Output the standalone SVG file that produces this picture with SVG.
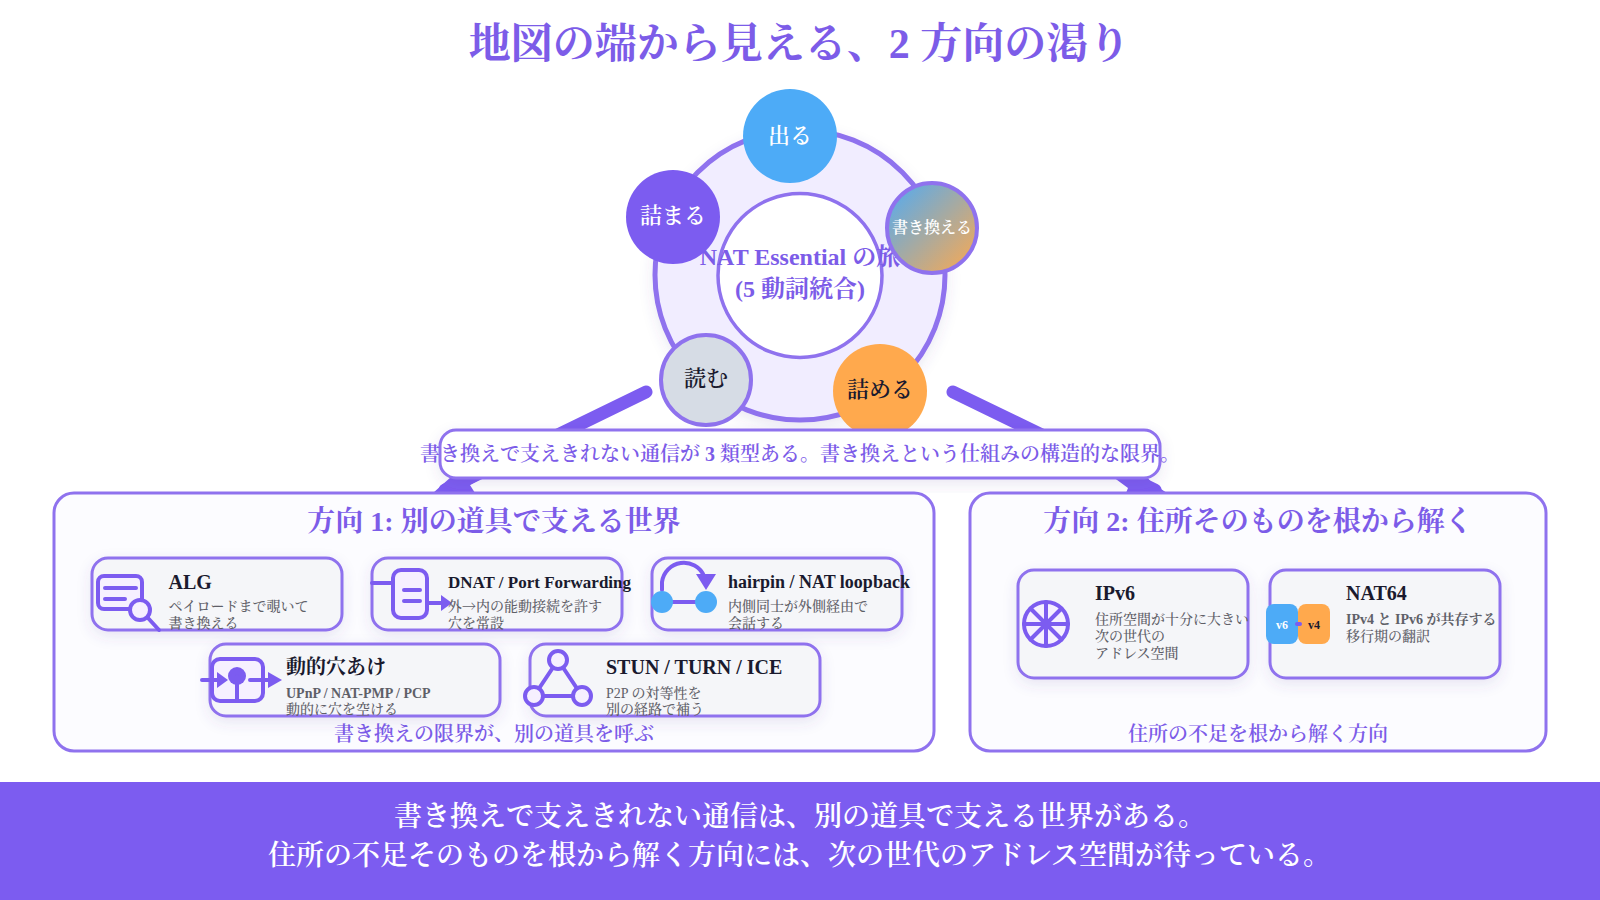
<svg xmlns="http://www.w3.org/2000/svg" width="1600" height="900" viewBox="0 0 1600 900">
<style>
text{font-family:"Liberation Serif","Noto Serif CJK JP","Noto Sans CJK JP",serif}
.c{text-anchor:middle}
.pf{fill:#7c5ce8}
.title{font-size:42px;font-weight:700}
.sat{font-size:22px;font-weight:600;text-anchor:middle}
.w{fill:#fff}.k{fill:#1a1a2e}
.panel{fill:#fcfcff;stroke:#8f72ee;stroke-width:3}
.card{fill:#f5f6f9;stroke:#8f72ee;stroke-width:3;filter:url(#sh)}
.ct{font-size:20px;font-weight:700;fill:#1a1a2e}
.cs{font-size:18px}
.cx{font-size:17px}
.cd{font-size:14px;fill:#5f6068;font-weight:500}
.cb{font-weight:700}
.ja{font-family:"Noto Serif CJK JP",serif}
.pt{font-size:28px;font-weight:700;fill:#7c5ce8;text-anchor:middle}
.pb{font-size:20px;font-weight:600;fill:#7c5ce8;text-anchor:middle}
.ic{fill:none;stroke:#7c5cf0;stroke-width:4;stroke-linecap:round}
.il{fill:#f6f0ff;stroke:#7c5cf0;stroke-width:4}
.if{fill:#7c5cf0}
.bn{font-size:28px;font-weight:600;fill:#fff;text-anchor:middle}
</style>
<defs>
<filter id="sh" x="-20%" y="-20%" width="140%" height="150%"><feDropShadow dx="0" dy="5" stdDeviation="7" flood-color="#5a4a9a" flood-opacity=".12"/></filter>
<linearGradient id="mix" x1="0" y1="0" x2="1" y2="1"><stop offset="0" stop-color="#4dabf7"/><stop offset="1" stop-color="#ffa94d"/></linearGradient>
</defs>
<rect width="1600" height="900" fill="#fff"/>
<text x="799.500" y="58" class="title pf c">地図の端から見える、2 方向の渇り</text>
<g id="connectors">
<path d="M646 392L445 490M953 392L1155 490" fill="none" stroke="#7c5cf0" stroke-width="13" stroke-linecap="round"/>
<path d="M433 493L451 477H484L470 485 475 493ZM1113 477L1128 488 1126 493H1167L1152 483 1147 477Z" fill="#7c5cf0"/>
</g>
<g id="hub">
<circle cx="800" cy="275" r="145" fill="#f1edff" stroke="#8f72ee" stroke-width="5" filter="url(#sh)"/>
<circle cx="800" cy="275.500" r="82" fill="#fff" stroke="#8f72ee" stroke-width="3.500"/>
<text x="800" y="265" font-size="24" font-weight="700" class="pf c">NAT Essential の旅</text>
<text x="800" y="297" font-size="24" font-weight="700" class="pf c">(5 動詞統合)</text>
</g>
<g id="n-deru"><circle cx="790" cy="136" r="47" fill="#4dabf7"/><text x="790" y="143" class="sat w">出る</text></g>
<g id="n-tsumaru"><circle cx="673" cy="217" r="47" fill="#7c5cf0"/><text x="673" y="223" class="sat w">詰まる</text></g>
<g id="n-kakikaeru"><circle cx="932" cy="228" r="45" fill="url(#mix)" stroke="#8f72ee" stroke-width="4"/><text x="932" y="233" class="c w" font-size="16" font-weight="600">書き換える</text></g>
<g id="n-yomu"><circle cx="706" cy="380" r="45" fill="#d6dce5" stroke="#8f72ee" stroke-width="4"/><text x="706" y="386" class="sat k">読む</text></g>
<g id="n-tsumeru"><circle cx="880" cy="391" r="47" fill="#ffa94d"/><text x="880" y="397" class="sat k">詰める</text></g>
<g id="callout"><rect x="440" y="430" width="720" height="48" rx="16" fill="#fff" stroke="#8f72ee" stroke-width="3" filter="url(#sh)"/><text x="800" y="461" font-size="20" font-weight="600" class="pf c">書き換えで支えきれない通信が 3 類型ある。書き換えという仕組みの構造的な限界。</text></g>
<g id="panel-1"><rect x="54" y="493" width="880" height="258" rx="20" class="panel"/><text x="494" y="531" class="pt">方向 1: 別の道具で支える世界</text><text x="494" y="741" class="pb">書き換えの限界が、別の道具を呼ぶ</text></g>
<g id="panel-2"><rect x="970" y="493" width="576" height="258" rx="20" class="panel"/><text x="1258" y="531" class="pt">方向 2: 住所そのものを根から解く</text><text x="1258" y="741" class="pb">住所の不足を根から解く方向</text></g>
<g id="card-alg"><rect x="92" y="558" width="250" height="72" rx="16" class="card"/>
<rect x="98" y="576" width="44" height="33" rx="6" class="il"/><path d="M105 588H136M105 599H125" class="ic"/><path d="M148 618L159 630" class="ic"/><circle cx="140" cy="610" r="10" class="il"/>
<text x="168.500" y="589" class="ct">ALG</text><text x="168.500" y="611" class="cd">ペイロードまで覗いて</text><text x="168.500" y="628" class="cd">書き換える</text></g>
<g id="card-dnat"><rect x="372" y="558" width="250" height="72" rx="16" class="card"/>
<rect x="393" y="570" width="34" height="48" rx="8" class="il"/><path d="M372 583H393M404 590H420M404 601H420M427 603H442" class="ic"/><path d="M441 595L452 603 441 611Z" class="if"/>
<text x="448" y="588" class="ct cx">DNAT / Port Forwarding</text><text x="448" y="611" class="cd">外<tspan class="ja">→</tspan>内の能動接続を許す</text><text x="448" y="628" class="cd">穴を常設</text></g>
<g id="card-hairpin"><rect x="652" y="558" width="250" height="72" rx="16" class="card"/>
<path d="M662 590V582A22 22 0 0 1 704 576" class="ic"/><path d="M696 574H716L706 590Z" class="if"/><path d="M662 602H706" class="ic"/><circle cx="662" cy="602" r="11" fill="#4dabf7"/><circle cx="706" cy="602" r="11" fill="#4dabf7"/>
<text x="728" y="588" class="ct cs">hairpin / NAT loopback</text><text x="728" y="611" class="cd">内側同士が外側経由で</text><text x="728" y="628" class="cd">会話する</text></g>
<g id="card-dynamic"><rect x="210" y="644" width="290" height="72" rx="16" class="card"/>
<rect x="212" y="659" width="51" height="42" rx="8" class="il"/><circle cx="237" cy="676" r="9" class="if"/><path d="M237 676V700M202 680H220M250 680H270" class="ic"/><path d="M217 672L228 680 217 688ZM268 672L282 680 268 688Z" class="if"/>
<text x="286" y="674" class="ct">動的穴あけ</text><text x="286" y="698" class="cd cb">UPnP / NAT-PMP / PCP</text><text x="286" y="714" class="cd">動的に穴を空ける</text></g>
<g id="card-stun"><rect x="530" y="644" width="290" height="72" rx="16" class="card"/>
<path d="M558 660L534 696H582Z" class="ic"/><circle cx="558" cy="660" r="9" class="il"/><circle cx="534" cy="696" r="9" class="il"/><circle cx="582" cy="696" r="9" class="il"/>
<text x="606" y="674" class="ct">STUN / TURN / ICE</text><text x="606" y="698" class="cd">P2P の対等性を</text><text x="606" y="714" class="cd">別の経路で補う</text></g>
<g id="card-ipv6"><rect x="1018" y="570" width="230" height="108" rx="16" class="card"/>
<circle cx="1046" cy="624" r="22" class="il"/><path d="M1046 602V646M1024 624H1068M1030.500 608.500L1061.500 639.500M1061.500 608.500L1030.500 639.500" class="ic"/>
<text x="1095" y="600" class="ct">IPv6</text><text x="1095" y="624" class="cd">住所空間が十分に大きい</text><text x="1095" y="641" class="cd">次の世代の</text><text x="1095" y="658" class="cd">アドレス空間</text></g>
<g id="card-nat64"><rect x="1270" y="570" width="230" height="108" rx="16" class="card"/>
<rect x="1266" y="604" width="32" height="40" rx="8" fill="#4dabf7"/><rect x="1298" y="604" width="32" height="40" rx="8" fill="#ffa94d"/><path d="M1297 624H1300" class="ic"/>
<text x="1282" y="629" class="c w" font-size="12" font-weight="700">v6</text><text x="1314" y="629" class="c k" font-size="12" font-weight="700">v4</text>
<text x="1346" y="600" class="ct">NAT64</text><text x="1346" y="624" class="cd cb">IPv4 と IPv6 が共存する</text><text x="1346" y="641" class="cd">移行期の翻訳</text></g>
<g id="banner"><rect y="782" width="1600" height="118" fill="#7c5cf0"/><text x="800" y="826" class="bn">書き換えで支えきれない通信は、別の道具で支える世界がある。</text><text x="799.500" y="865" class="bn">住所の不足そのものを根から解く方向には、次の世代のアドレス空間が待っている。</text></g>
</svg>
